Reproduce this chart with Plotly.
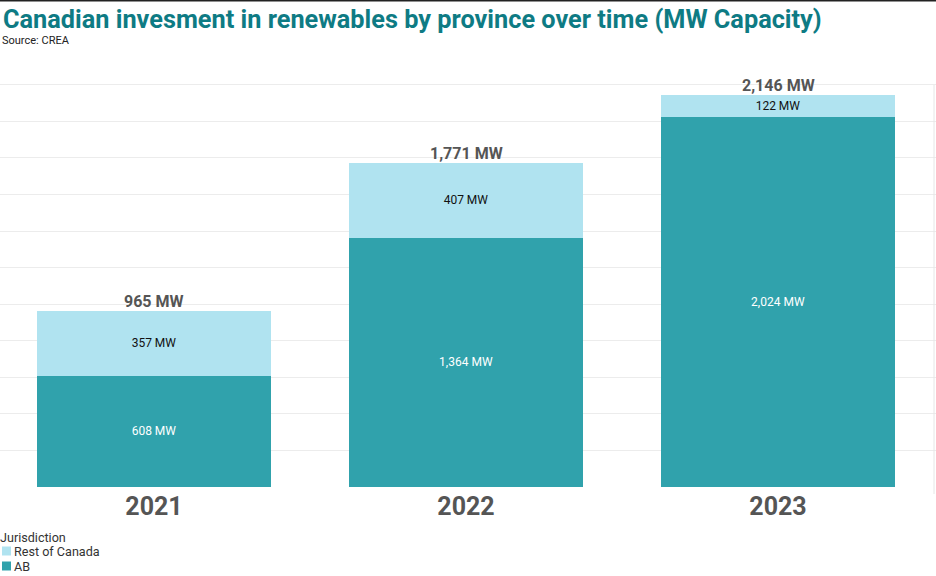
import plotly.graph_objects as go

years = ["2021", "2022", "2023"]
ab_mw = [608, 1364, 2024]
rest_mw = [357, 407, 122]
totals = [a + r for a, r in zip(ab_mw, rest_mw)]

AB_COLOR = "#30a2ac"
REST_COLOR = "#b0e3f0"
FONT = "Roboto"

W, H = 936, 576
M_L, M_R, M_T, M_B = 0, 0, 83, 89
PW, PH = W - M_L - M_R, H - M_T - M_B


def px_x(x):
    return (x - M_L) / PW


def px_y(y):
    return (H - M_B - y) / PH


fig = go.Figure()
fig.add_trace(go.Bar(
    name="AB", x=years, y=ab_mw, marker_color=AB_COLOR, marker_line_width=0,
    text=[f"{v:,} MW" for v in ab_mw], textposition="inside",
    insidetextanchor="middle", textfont=dict(family=FONT, size=12, color="white"),
    hoverinfo="x+y",
))
fig.add_trace(go.Bar(
    name="Rest of Canada", x=years, y=rest_mw, marker_color=REST_COLOR, marker_line_width=0,
    text=[f"{v:,} MW" for v in rest_mw], textposition="inside",
    insidetextanchor="middle", textfont=dict(family=FONT, size=12, color="#111111"),
    hoverinfo="x+y",
))

# totals above each stack (category index positions)
for i, t in enumerate(totals):
    fig.add_annotation(x=i, y=t, xref="x", yref="y", text=f"<b>{t:,} MW</b>", showarrow=False,
                       yanchor="bottom", yshift=-2,
                       font=dict(family=FONT, size=16, color="#555555"))

# Title and source
fig.add_annotation(xref="paper", yref="paper", x=px_x(1), y=px_y(19), xanchor="left", yanchor="middle",
                   text="<b>Canadian invesment in renewables by province over time (MW Capacity)</b>",
                   showarrow=False, font=dict(family=FONT, size=25.3, color="#0e7b84"))
fig.add_annotation(xref="paper", yref="paper", x=px_x(0), y=px_y(41), xanchor="left", yanchor="middle",
                   text="Source: CREA", showarrow=False,
                   font=dict(family=FONT, size=11, color="#222222"))

# Manual legend (title, swatches, labels)
fig.add_annotation(xref="paper", yref="paper", x=px_x(-2), y=px_y(537), xanchor="left", yanchor="middle",
                   text="Jurisdiction", showarrow=False,
                   font=dict(family=FONT, size=12.6, color="#333333"))
legend_items = [("Rest of Canada", REST_COLOR, 551), ("AB", AB_COLOR, 566)]
for label, color, yc in legend_items:
    fig.add_shape(type="rect", xref="paper", yref="paper",
                  x0=px_x(2), x1=px_x(11), y0=px_y(yc - 4.5), y1=px_y(yc + 4.5),
                  fillcolor=color, line=dict(width=0))
    fig.add_annotation(xref="paper", yref="paper", x=px_x(12), y=px_y(yc), xanchor="left",
                       yanchor="middle", text=label, showarrow=False,
                       font=dict(family=FONT, size=12.6, color="#333333"))

# Top dark rule and right light border
fig.add_shape(type="line", xref="paper", yref="paper", x0=px_x(-5), x1=px_x(940),
              y0=px_y(0.7), y1=px_y(0.7), line=dict(color="#222222", width=1.5))
fig.add_shape(type="line", xref="paper", yref="paper", x0=px_x(934), x1=px_x(934),
              y0=px_y(494), y1=px_y(85), line=dict(color="#e6e6e6", width=1))

fig.update_layout(
    barmode="stack",
    bargap=0.25,
    width=W, height=H,
    margin=dict(l=M_L, r=M_R, t=M_T, b=M_B),
    paper_bgcolor="white", plot_bgcolor="white",
    showlegend=False,
    font=dict(family=FONT),
    xaxis=dict(type="category", range=[-0.4936, 2.5064], autorange=False,
               tickfont=dict(family=FONT, size=25, color="#555555", weight="bold"),
               ticklabelstandoff=2,
               showgrid=False, ticks="", showline=False, automargin=False),
    yaxis=dict(range=[0, 2210], autorange=False, dtick=200, showticklabels=False,
               gridcolor="#ececec", gridwidth=1, zeroline=False, ticks="", automargin=False),
)

fig.write_html("out.html", config={"displayModeBar": False})

# remove default page margin so the 936x576 figure fills the window exactly
with open("out.html", "r", encoding="utf-8") as f:
    html = f.read()
html = html.replace("<head>", "<head><style>body{margin:0;padding:0;overflow:hidden}</style>", 1)
with open("out.html", "w", encoding="utf-8") as f:
    f.write(html)
